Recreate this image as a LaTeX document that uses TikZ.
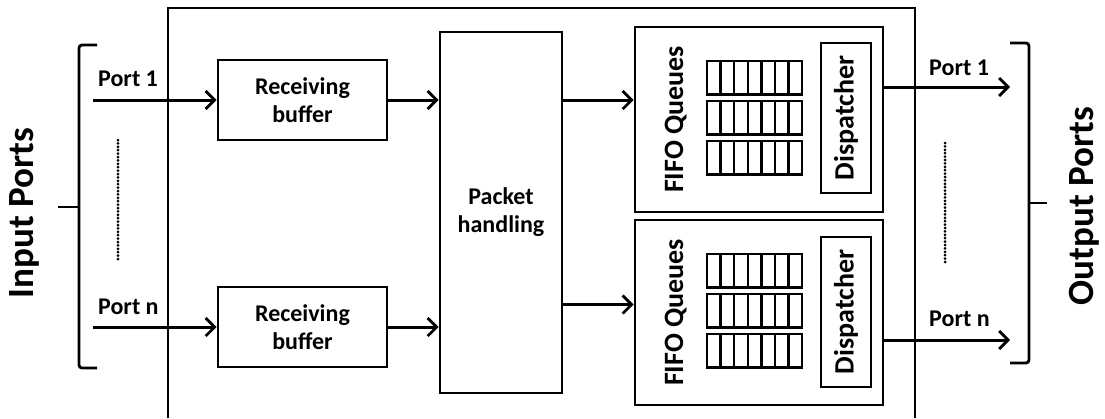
\documentclass[tikz,border=0pt]{standalone}
\usepackage{fontspec}
\setmainfont{Carlito}
\usetikzlibrary{arrows.meta, positioning}
\tikzstyle{buffer} = [rectangle, draw=black, line width=2.6pt, minimum width=169pt, minimum height=80pt, align=center, font=\fontsize{24}{28}\selectfont\bfseries]
\tikzstyle{handler} = [rectangle, draw=black, line width=2.6pt, minimum width=122pt, minimum height=361pt, align=center, font=\fontsize{24}{28}\selectfont\bfseries]
\tikzstyle{queuebox} = [rectangle, draw=black, line width=2.6pt, minimum width=248pt, minimum height=185pt]
\tikzstyle{disp} = [rectangle, draw=black, line width=2.4pt, rotate=90, minimum width=150pt, minimum height=50pt, font=\fontsize{28}{32}\selectfont\bfseries]
\tikzstyle{qlabel} = [rotate=90, anchor=base, inner sep=0pt, font=\fontsize{28}{32}\selectfont\bfseries]
\tikzstyle{portlabel} = [anchor=base west, inner sep=0pt, font=\fontsize{24}{28}\selectfont\bfseries]
\tikzstyle{title} = [rotate=90, anchor=base, inner sep=0pt, font=\fontsize{37}{40}\selectfont\bfseries]
\tikzstyle{cell} = [draw=black, line width=2.4pt]
\tikzstyle{brace} = [line width=2.8pt, rounded corners=3pt]
\tikzstyle{dots} = [line width=3pt, line cap=round, dash pattern=on 0pt off 3.4pt]
\tikzstyle{arrow} = [line width=3pt, -{Straight Barb[length=9pt, width=18pt, line width=2.8pt]}]

\begin{document}
\begin{tikzpicture}[x=1pt, y=-1pt]
\useasboundingbox (0,0) rectangle (1105,418);
%外框
\draw[line width=2.6pt] (168,418) |- (915,8) -- (915,418);
%各模块
\node[buffer](rb1) at (302.5,100){Receiving\\buffer};
\node[buffer, below=144.4pt of rb1](rb2){Receiving\\buffer};
\node[handler](ph) at (501,212.5){Packet\\handling};
\node[queuebox](fifo1) at (759,119.5){};
\node[queuebox, below=5.4pt of fifo1](fifo2){};
\node[disp](d1) at (846,118){Dispatcher};
\node[disp](d2) at (846,312){Dispatcher};
\node[qlabel](ql1) at ([xshift=-76pt]fifo1.center){FIFO Queues};
\node[qlabel](ql2) at ([xshift=-76pt]fifo2.center){FIFO Queues};
%队列格子
\foreach \f in {fifo1,fifo2}
  \foreach \r in {0,1,2}
    \foreach \c in {0,...,6}
      \draw[cell] ([shift={(-52+\c*13.6,-58.5+\r*40)}]\f.center) rectangle ++(13.6,33.5);
%端口
\node[title](inp) at (33,213){Input Ports};
\node[title](outp) at (1093,206){Output Ports};
\node[portlabel](lin1) at (98,86){Port 1};
\node[portlabel](linn) at (98,314){Port n};
\node[portlabel](lout1) at (929,75){Port 1};
\node[portlabel](loutn) at (929,326){Port n};
\coordinate (in1) at (93,100);
\coordinate (in2) at (93,327);
\coordinate (out1) at (1010,87);
\coordinate (out2) at (1010,340);
\coordinate (q2) at ([yshift=8pt]fifo2.west);
\draw[brace] (97,45) -- (79,45) -- (79,368) -- (97,368);
\draw[brace] (79,207) -- (58,207);
\draw[brace] (1010,43) -- (1029,43) -- (1029,363) -- (1010,363);
\draw[brace] (1029,203) -- (1047,203);
\draw[dots] (118,140) -- (118,262);
\draw[dots] (945,143) -- (945,263);
%连线
\draw[arrow] (in1) -- (rb1);
\draw[arrow] (in2) -- (rb2);
\draw[arrow] (rb1.east) -- (rb1.east -| ph.west);
\draw[arrow] (rb2.east) -- (rb2.east -| ph.west);
\draw[arrow] (ph.east |- rb1) -- (fifo1.west |- rb1);
\draw[arrow] (ph.east |- q2) -- (q2);
\draw[arrow] (fifo1.east |- out1) -- (out1);
\draw[arrow] (fifo2.east |- out2) -- (out2);
\end{tikzpicture}
\end{document}
